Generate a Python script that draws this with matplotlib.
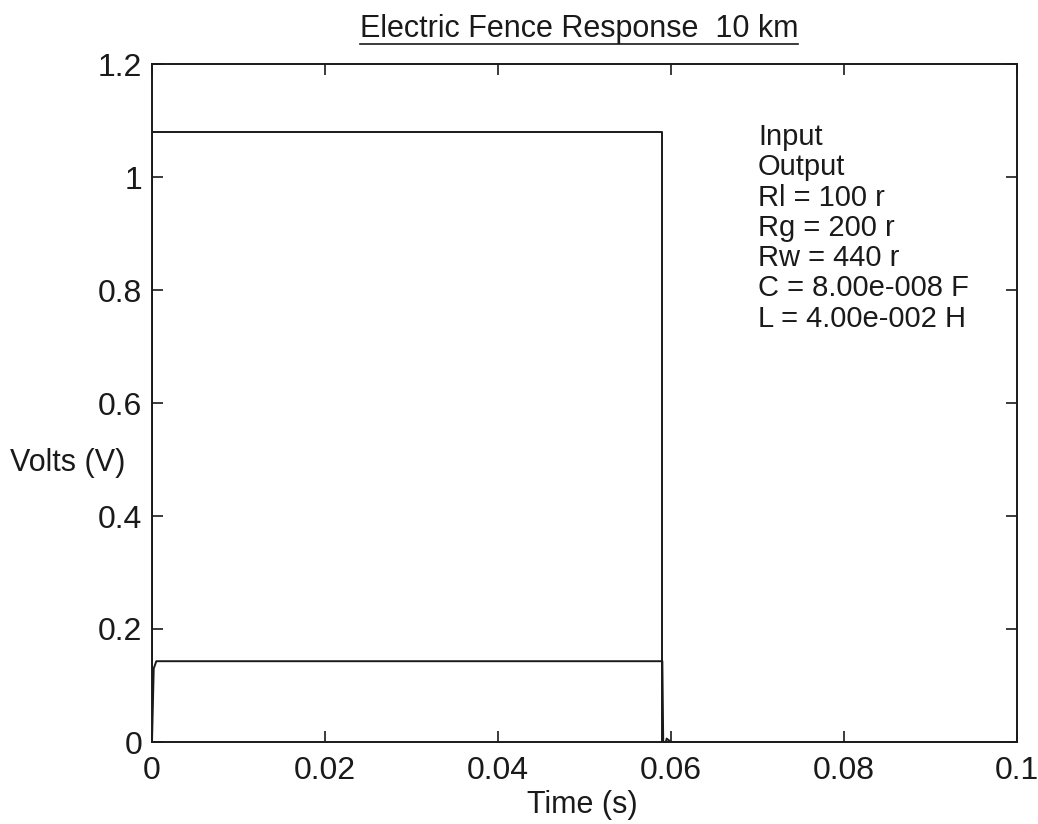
import matplotlib
matplotlib.use('Agg')
import matplotlib.pyplot as plt
from matplotlib.lines import Line2D

# Dane
input_t = [0.0, 0.0, 0.059, 0.059, 0.1]
input_v = [0.0, 1.08, 1.08, 0.0, 0.0]
output_t = [0.0, 0.0002, 0.0005, 0.059, 0.0591, 0.0594, 0.0595, 0.0600, 0.0601, 0.1]
output_v = [0.0, 0.13, 0.143, 0.143, 0.0, 0.0, 0.006, 0.0, 0.0, 0.0]
x_ticks = [0, 0.02, 0.04, 0.06, 0.08, 0.1]
x_labels = ['0', '0.02', '0.04', '0.06', '0.08', '0.1']
y_ticks = [0, 0.2, 0.4, 0.6, 0.8, 1.0, 1.2]
y_labels = ['0', '0.2', '0.4', '0.6', '0.8', '1', '1.2']
legend_lines = ['Input', 'Output', 'Rl = 100 r', 'Rg = 200 r', 'Rw = 440 r',
                'C = 8.00e-008 F', 'L = 4.00e-002 H']

plt.rcParams['font.family'] = ['Liberation Sans', 'DejaVu Sans']
W, H = 1038, 824
INK = '#1a1a1a'

fig = plt.figure(figsize=(W / 100, H / 100), dpi=100)
ax = fig.add_axes([152 / W, 1 - 742 / H, (1017 - 152) / W, (742 - 64) / H])
ax.plot(input_t, input_v, color=INK, lw=1.4)
ax.plot(output_t, output_v, color=INK, lw=1.4)
ax.set_xlim(0, 0.1)
ax.set_ylim(0, 1.2)
ax.set_xticks(x_ticks)
ax.set_xticklabels(x_labels)
ax.set_yticks(y_ticks)
ax.set_yticklabels(y_labels)
ax.tick_params(direction='in', length=8, width=1.2, top=True, right=True,
               labelsize=23, colors=INK)
ax.tick_params(axis='x', pad=10)
ax.tick_params(axis='y', pad=7)
for s in ax.spines.values():
    s.set_linewidth(1.4)
    s.set_color(INK)

# Etykiety osi
fig.text(582 / W, 1 - 805 / H, 'Time (s)', fontsize=22, ha='center', va='center', color=INK)
fig.text(10 / W, 1 - 463 / H, 'Volts (V)', fontsize=22, ha='left', va='center', color=INK)

# Legenda jako tekst (bez probek linii)
for i, txt in enumerate(legend_lines):
    fig.text(758 / W, 1 - (145 + 30.3 * i) / H, txt, fontsize=21,
             va='baseline', ha='left', color=INK)

# Tytul z podkresleniem
title = fig.text(579 / W, 1 - 37 / H, 'Electric Fence Response  10 km',
                 fontsize=22, ha='center', va='baseline', color=INK)
fig.canvas.draw()
bb = title.get_window_extent().transformed(fig.transFigure.inverted())
fig.add_artist(Line2D([bb.x0, bb.x1], [1 - 44 / H, 1 - 44 / H],
                      transform=fig.transFigure, color=INK, lw=1.2))

fig.savefig('out.png', dpi=100)
